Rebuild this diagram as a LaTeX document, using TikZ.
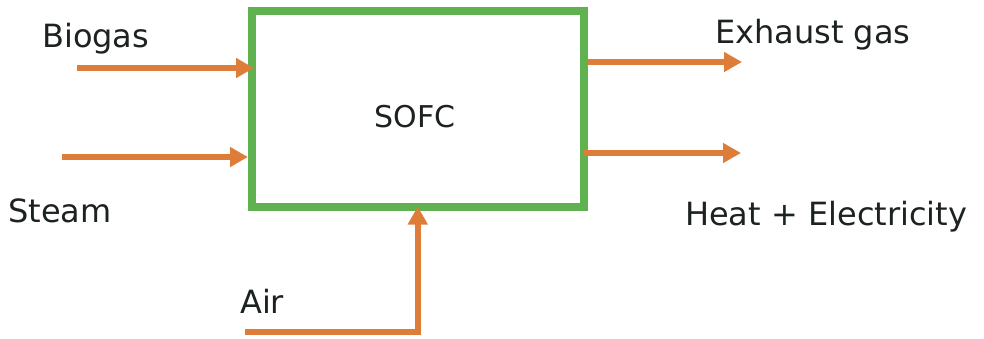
\documentclass[tikz,border=0pt]{standalone}
\usepackage{fontspec}
\setmainfont{DejaVu Sans}
\usetikzlibrary{arrows.meta}
\definecolor{flowor}{RGB}{222,124,58}
\definecolor{cellgreen}{RGB}{96,178,80}
\definecolor{inkdark}{RGB}{28,34,34}
\tikzset{
  flow/.style={draw=flowor, line width=6pt, -{Triangle[length=18pt,width=19pt]}},
  cell/.style={draw=cellgreen, line width=8pt, outer sep=0pt, minimum width=331.5pt, minimum height=195.5pt, inner sep=0pt},
  lbl/.style={text=inkdark, font=\fontsize{32pt}{36pt}\selectfont, inner sep=0pt}
}
\begin{document}
\begin{tikzpicture}[x=1pt,y=-1pt]
  \useasboundingbox (0,0) rectangle (984,338);
  % fuel cell block
  \node[cell] (box) at (417.75,108.75) {};
  \node[lbl, font=\fontsize{30pt}{34pt}\selectfont, anchor=base] (sofc) at (415,127) {SOFC};
  % labels
  \node[lbl, anchor=base west] (biogas) at (42,47) {Biogas};
  \node[lbl, anchor=base west] (steam) at (8,222) {Steam};
  \node[lbl, anchor=base west] (air) at (240,313) {Air};
  \node[lbl, anchor=base west] (exh) at (715,43) {Exhaust gas};
  \node[lbl, anchor=base west] (heat) at (685,225) {Heat + Electricity};
  % free ends of the streams
  \coordinate (bgin) at (77,68);
  \coordinate (stin) at (62,157);
  \coordinate (airin) at (245,332);
  \coordinate (exout) at (742,62);
  \coordinate (htout) at (741,153);
  % inlet streams
  \draw[flow] (bgin) -- ([xshift=2pt]bgin -| box.west);
  \draw[flow] (stin) -- ([xshift=-4pt]stin -| box.west);
  \draw[flow] (airin) -| (box.south);
  % outlet streams
  \draw[flow] ([xshift=4pt]exout -| box.east) -- (exout);
  \draw[flow] (htout -| box.east) -- (htout);
\end{tikzpicture}
\end{document}
